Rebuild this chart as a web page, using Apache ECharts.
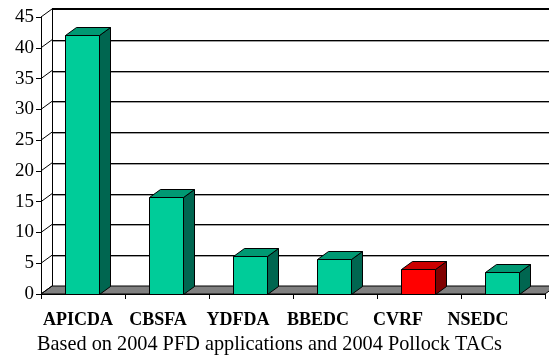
<!DOCTYPE html>
<html>
<head>
<meta charset="utf-8">
<script src="https://cdn.jsdelivr.net/npm/echarts@6/dist/echarts.min.js"></script>
<style>
  html, body { margin: 0; padding: 0; background: #fff; }
  #chart { width: 549px; height: 358px; }
</style>
</head>
<body>
<div id="chart"></div>
<script>
// Percentage of PFD applications per CDQ group
const categories = ['APICDA', 'CBSFA', 'YDFDA', 'BBEDC', 'CVRF', 'NSEDC'];
const values = [42, 15.7, 6.2, 5.7, 4.1, 3.5];
const yTicks = [0, 5, 10, 15, 20, 25, 30, 35, 40, 45];
const highlighted = 'CVRF';
const subtitle = 'Based on 2004 PFD applications and 2004 Pollock TACs';

// depth offset of the pseudo-3D box (pixels)
const DX = 11, DY = -8;
const SERIF = '"Liberation Serif", "Times New Roman", serif';

const px = v => Math.round(v) + 0.5;

// Walls, floor and gridlines of the 3D box
function renderWalls(params, api) {
  const cs = params.coordSys;
  const x0 = cs.x, x1 = cs.x + cs.width;
  const yb = api.coord([0, 0])[1];
  const ytop = api.coord([0, yTicks[yTicks.length - 1]])[1];
  const children = [];
  // back wall gridlines (with a light shadow line under each)
  yTicks.forEach(v => {
    const y = px(api.coord([0, v])[1] + DY);
    if (v === yTicks[yTicks.length - 1]) return;
    children.push({ type: 'line', shape: { x1: x0 + DX, y1: y + 1, x2: x1 + DX, y2: y + 1 }, style: { stroke: '#a0a0a0', lineWidth: 1 } });
    children.push({ type: 'line', shape: { x1: x0 + DX, y1: y, x2: x1 + DX, y2: y }, style: { stroke: '#000', lineWidth: 1 } });
  });
  // floor
  children.push({
    type: 'polygon',
    shape: { points: [[x0, yb], [x1, yb], [x1 + DX, yb + DY], [x0 + DX, yb + DY]] },
    style: { fill: '#808080', stroke: '#000', lineWidth: 1 }
  });
  // side wall diagonals
  yTicks.forEach(v => {
    const y = api.coord([0, v])[1];
    children.push({ type: 'line', shape: { x1: x0, y1: y, x2: x0 + DX, y2: y + DY }, style: { stroke: '#000', lineWidth: 1 } });
  });
  // back-left vertical edge
  children.push({ type: 'line', shape: { x1: px(x0 + DX), y1: yb + DY, x2: px(x0 + DX), y2: ytop + DY }, style: { stroke: '#000', lineWidth: 1 } });
  // top edge of back wall
  children.push({ type: 'line', shape: { x1: x0 + DX, y1: Math.round(ytop + DY), x2: x1 + DX, y2: Math.round(ytop + DY) }, style: { stroke: '#000', lineWidth: 2 } });
  return { type: 'group', children };
}

// 3D column: front face, top face and side face
function renderBar(params, api) {
  const idx = api.value(0);
  const top = api.coord([idx, api.value(1)]);
  const base = api.coord([idx, 0]);
  const band = api.size([1, 0])[0];
  const w = Math.round(band * 0.4);
  const xa = Math.round(top[0] - w / 2 - 1) + 0.5;
  const xb = xa + w;
  const yt = Math.round(top[1]) + 0.5;
  const yb = Math.round(base[1]) + 0.5;
  const hot = categories[idx] === highlighted;
  const front = hot ? '#ff0000' : '#00cc99';
  const lid = hot ? '#cc0000' : '#009973';
  const side = hot ? '#800000' : '#006650';
  return {
    type: 'group',
    children: [
      { type: 'polygon', shape: { points: [[xb, yb], [xb + DX, yb + DY], [xb + DX, yt + DY], [xb, yt]] }, style: { fill: side, stroke: '#000', lineWidth: 1 } },
      { type: 'polygon', shape: { points: [[xa, yt], [xa + DX, yt + DY], [xb + DX, yt + DY], [xb, yt]] }, style: { fill: lid, stroke: '#000', lineWidth: 1 } },
      { type: 'rect', shape: { x: xa, y: yt, width: w, height: yb - yt }, style: { fill: front, stroke: '#000', lineWidth: 1 } }
    ]
  };
}

const chart = echarts.init(document.getElementById('chart'), null, { renderer: 'canvas' });
chart.setOption({
  animation: false,
  backgroundColor: '#fff',
  title: {
    text: subtitle,
    left: 37,
    top: 335,
    padding: 0,
    textStyle: { fontFamily: SERIF, fontWeight: 'normal', fontSize: 20.3, color: '#000' }
  },
  grid: [
    // plot box
    { left: 41, top: 17, width: 504, height: 277, containLabel: false },
    // label row: category names sit on a slightly narrower band
    { left: 38, top: 17, width: 480, height: 277, containLabel: false }
  ],
  xAxis: [
    {
      type: 'category',
      gridIndex: 0,
      data: categories,
      boundaryGap: true,
      axisLine: { show: true, lineStyle: { color: '#000', width: 1 } },
      axisTick: { show: true, length: 5, interval: 0, lineStyle: { color: '#000' } },
      axisLabel: { show: false },
      splitLine: { show: false },
      z: 10
    },
    {
      type: 'category',
      gridIndex: 1,
      data: categories,
      boundaryGap: true,
      axisLine: { show: false },
      axisTick: { show: false },
      axisLabel: { interval: 0, margin: 17, color: '#000', fontFamily: SERIF, fontWeight: 'bold', fontSize: 18 },
      splitLine: { show: false }
    }
  ],
  yAxis: [
    {
      type: 'value',
      gridIndex: 0,
      min: 0,
      max: 45,
      interval: 5,
      axisLine: { show: true, lineStyle: { color: '#000', width: 1 } },
      axisTick: { show: true, length: 5, lineStyle: { color: '#000' } },
      axisLabel: { margin: 7, color: '#000', fontFamily: SERIF, fontSize: 19 },
      splitLine: { show: false },
      z: 10
    },
    {
      type: 'value',
      gridIndex: 1,
      min: 0,
      max: 45,
      interval: 5,
      show: false
    }
  ],
  series: [
    {
      type: 'custom',
      renderItem: renderWalls,
      data: [[0, 0]],
      encode: { x: 0, y: 1 },
      silent: true,
      z: 1
    },
    {
      type: 'custom',
      renderItem: renderBar,
      data: values.map((v, i) => [i, v]),
      encode: { x: 0, y: 1 },
      z: 2
    }
  ]
});
</script>
</body>
</html>
